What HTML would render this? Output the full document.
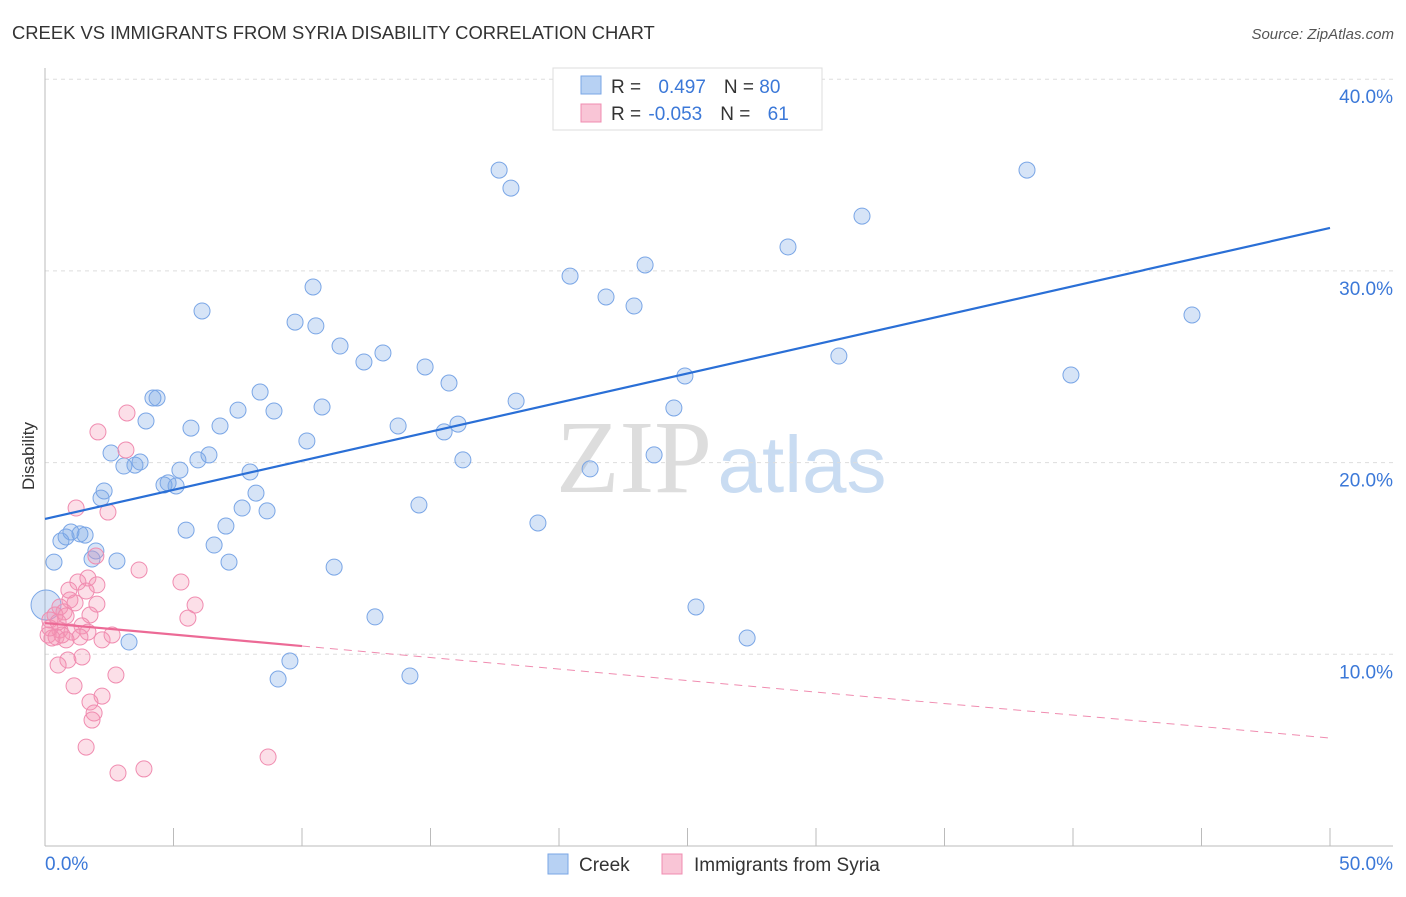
<!DOCTYPE html>
<html><head><meta charset="utf-8"><style>
body{margin:0;background:#fff;font-family:"Liberation Sans",sans-serif;}
svg text{font-family:"Liberation Sans",sans-serif;}
</style></head><body>
<svg id="chart" width="1406" height="892">
<text x="12" y="39" font-size="18.4" fill="#333">CREEK VS IMMIGRANTS FROM SYRIA DISABILITY CORRELATION CHART</text>
<text x="1394" y="39" font-size="15" fill="#555" text-anchor="end" font-style="italic">Source: ZipAtlas.com</text>
<text x="34" y="456" font-size="17" fill="#333" text-anchor="middle" transform="rotate(-90 34 456)">Disability</text>
<g>
<text x="634" y="492" font-size="104" fill="#ddd" text-anchor="middle" style="font-family:'Liberation Serif',serif">ZIP</text>
<text x="802" y="492" font-size="80" fill="#c9dcf2" text-anchor="middle">atlas</text>
</g>
<g id="grid"></g><g id="marks"></g>
<g>
<rect x="553" y="68" width="269" height="62" fill="#fff" stroke="#ddd"/>
<rect x="581" y="76" width="20" height="18" fill="#b7d1f3" stroke="#7aa6e6"/>
<rect x="581" y="104" width="20" height="18" fill="#f9c5d6" stroke="#f08cb0"/>
<text x="611" y="93" font-size="19" fill="#333">R = <tspan fill="#3b78d8" dx="12">0.497</tspan><tspan dx="18" fill="#333">N = </tspan><tspan fill="#3b78d8">80</tspan></text>
<text x="611" y="120" font-size="19" fill="#333">R = <tspan fill="#3b78d8" dx="2">-0.053</tspan><tspan dx="18" fill="#333">N = </tspan><tspan fill="#3b78d8" dx="12">61</tspan></text>
</g>
<g>
<rect x="548" y="854" width="20" height="20" fill="#b7d1f3" stroke="#7aa6e6"/>
<text x="579" y="871" font-size="19" fill="#333">Creek</text>
<rect x="662" y="854" width="20" height="20" fill="#f9c5d6" stroke="#f08cb0"/>
<text x="694" y="871" font-size="19" fill="#333">Immigrants from Syria</text>
</g>
</svg>
<script>
const creekX=[17.67,18.13,38.21,31.79,28.91,20.43,23.35,21.83,22.92,10.43,6.11,9.73,10.54,11.48,13.15,12.41,14.79,15.72,8.37,7.51,8.91,10.78,4.20,4.36,3.93,5.68,6.81,13.74,16.07,15.53,18.33,24.90,24.47,30.89,39.92,44.63,10.19,6.38,5.95,2.57,3.07,3.50,3.70,5.25,7.98,4.63,4.79,5.10,8.21,2.30,2.18,7.67,8.64,14.55,7.04,5.49,6.58,1.01,0.82,0.62,1.36,1.56,1.98,1.83,2.80,7.16,0.35,11.25,19.18,21.21,23.70,16.26,25.33,27.32,12.84,3.27,9.53,9.07,14.20,0.04];
const creekY=[35.26,34.32,35.26,32.86,31.25,29.73,30.31,28.64,28.17,29.16,27.91,27.33,27.13,26.08,25.72,25.25,24.99,24.15,23.68,22.74,22.69,22.90,23.37,23.37,22.17,21.80,21.91,21.91,22.01,21.60,23.21,24.52,22.85,25.56,24.57,27.70,21.13,20.40,20.14,20.50,19.82,19.87,20.03,19.61,19.51,18.83,18.94,18.78,18.41,18.52,18.15,17.63,17.48,17.79,16.69,16.48,15.70,16.38,16.12,15.91,16.28,16.22,15.39,14.97,14.87,14.81,14.81,14.55,16.85,19.67,20.40,20.14,12.47,10.85,11.95,10.64,9.65,8.71,8.87,12.57];
const syriaX=[3.19,2.06,3.15,1.21,2.45,1.98,3.66,5.29,5.84,5.56,1.67,1.28,2.02,0.93,1.60,2.02,0.97,1.17,0.58,0.74,1.75,0.39,0.19,0.82,1.44,0.58,1.05,1.67,0.12,0.43,0.66,1.36,2.22,2.61,0.82,0.27,0.89,0.51,1.44,2.76,1.13,2.22,1.75,1.91,1.83,1.60,2.84,3.85,8.68,0.19,0.51];
const syriaY=[22.59,21.60,20.66,17.63,17.42,15.13,14.40,13.77,12.57,11.89,13.98,13.77,13.62,13.35,13.30,12.62,12.83,12.68,12.47,12.21,12.05,12.05,11.79,12.00,11.48,11.27,11.16,11.16,11.01,10.90,11.01,10.90,10.75,11.01,10.75,10.85,9.70,9.44,9.86,8.92,8.35,7.82,7.51,6.94,6.57,5.16,3.81,4.02,4.64,11.37,11.68];
const creekTrend=[17.06,32.24];
const syriaTrend=[11.63,5.63];
const syriaSolidEnd=10;
const yTicks=[10,20,30,40];
const xTicks=[0,5,10,15,20,25,30,35,40,45,50];
const NS='http://www.w3.org/2000/svg';
const sx=v=>45+v*25.7, sy=v=>846-v*19.17;
function mk(tag,attrs,parent){const e=document.createElementNS(NS,tag);for(const k in attrs)e.setAttribute(k,attrs[k]);parent.appendChild(e);return e;}
const grid=document.getElementById('grid'), marks=document.getElementById('marks');
yTicks.forEach(t=>{
 const l=mk('line',{x1:45,x2:1393,y1:sy(t),y2:sy(t),stroke:'#ddd','stroke-dasharray':'4,4'},grid);
 
 
 const tx=mk('text',{x:1393,y:sy(t)+24,'font-size':19,fill:'#3b78d8','text-anchor':'end'},grid);
 tx.textContent=t.toFixed(1)+'%';
 
 
});
const ya=mk('line',{x1:45,x2:45,y1:68,y2:846,stroke:'#bbb'},grid);


const xa=mk('line',{x1:45,x2:1393,y1:846,y2:846,stroke:'#bbb'},grid);


xTicks.forEach(t=>{
 const l=mk('line',{x1:sx(t),x2:sx(t),y1:828,y2:846,stroke:'#bbb'},grid);
 
 
});
[[0,'start',45],[50,'end',1393]].forEach(([t,a,x])=>{
 const tx=mk('text',{x:x,y:870,'font-size':19,fill:'#3b78d8','text-anchor':a},grid);
 tx.textContent=t.toFixed(1)+'%';
 
 
});
creekX.forEach((x,i)=>{
 const c=mk('circle',{cx:sx(x),cy:sy(creekY[i]),r:(i==creekX.length-1?15:8),fill:'rgba(120,165,230,0.3)',stroke:'#7aa6e6','stroke-width':1},marks);
 
 
});
syriaX.forEach((x,i)=>{
 const c=mk('circle',{cx:sx(x),cy:sy(syriaY[i]),r:8,fill:'rgba(245,150,180,0.3)',stroke:'#f08cb0','stroke-width':1},marks);
 
 
});
const ct=mk('line',{x1:sx(0),y1:sy(creekTrend[0]),x2:sx(50),y2:sy(creekTrend[1]),stroke:'#2a6fd6','stroke-width':2.2},marks);


const syAt=x=>syriaTrend[0]+(syriaTrend[1]-syriaTrend[0])*x/50;
const st=mk('line',{x1:sx(0),y1:sy(syAt(0)),x2:sx(syriaSolidEnd),y2:sy(syAt(syriaSolidEnd)),stroke:'#ec6a96','stroke-width':2.2},marks);


const sd=mk('line',{x1:sx(syriaSolidEnd),y1:sy(syAt(syriaSolidEnd)),x2:sx(50),y2:sy(syAt(50)),stroke:'#f08cb0','stroke-width':1,'stroke-dasharray':'8,6'},marks);


</script>
</body></html>
